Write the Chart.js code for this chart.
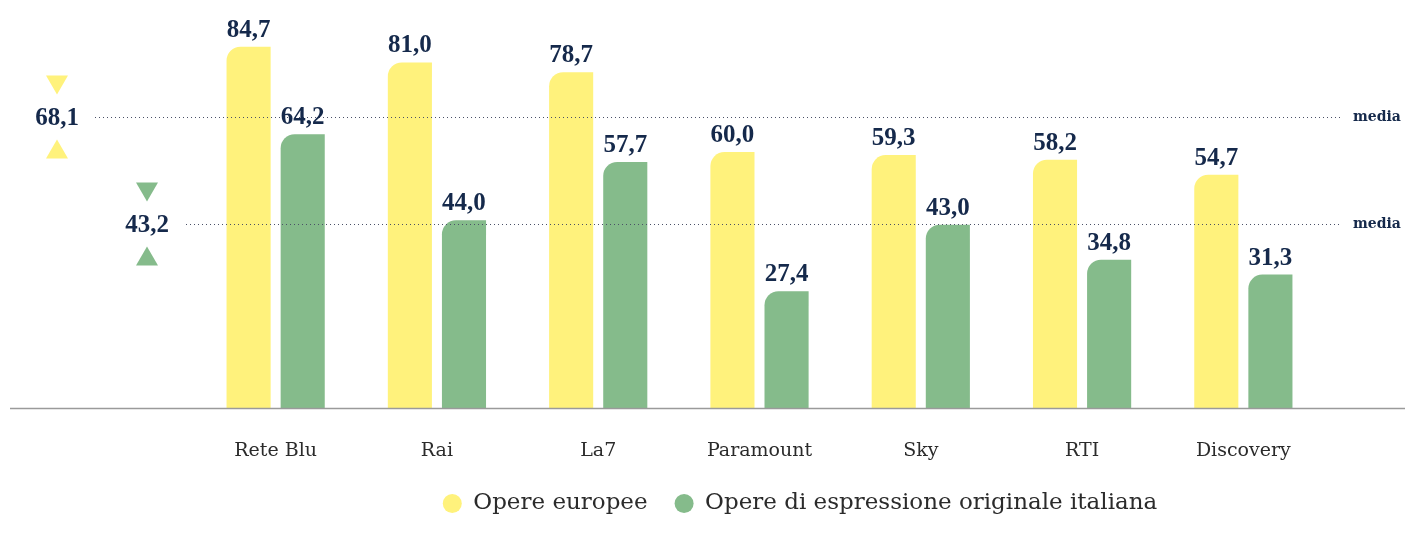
<!DOCTYPE html>
<html>
<head>
  <title>Opere europee</title>
  <script src="https://cdn.jsdelivr.net/npm/chart.js"></script>
  <style>
    body { margin: 0; background: #fff; }
  </style>
</head>
<body>
  <div style="width: 1405px; height: 534px;">
    <canvas id="myChart"></canvas>
  </div>

  <script>
    const labels = ['Rete Blu', 'Rai', 'La7', 'Paramount', 'Sky', 'RTI', 'Discovery'];
    const seriesNames = ['Opere europee', 'Opere di espressione originale italiana'];
    const europee = [84.7, 81.0, 78.7, 60.0, 59.3, 58.2, 54.7];
    const italiana = [64.2, 44.0, 57.7, 27.4, 43.0, 34.8, 31.3];
    const meanValues = [68.1, 43.2];
    const meanLabel = 'media';

    const YELLOW = '#fff27c';
    const GREEN = '#85bb8b';
    const NAVY = '#15294b';
    const serif = '"Liberation Serif", serif';
    const wide = '"DejaVu Serif", serif';

    const fmt = v => v.toFixed(1).replace('.', ',');

    // mean lines with value + triangles on the left, "media" on the right
    const meanPlugin = {
      id: 'means',
      afterDatasetsDraw(chart) {
        const ctx = chart.ctx;
        const y = chart.scales.y;
        const colors = [YELLOW, GREEN];
        const labelX = [57, 147];
        const lineStart = [95, 186];
        ctx.save();
        meanValues.forEach((m, i) => {
          const py = Math.round(y.getPixelForValue(m)) + 0.5;
          ctx.strokeStyle = '#4a5066';
          ctx.lineWidth = 1;
          ctx.setLineDash([1, 3]);
          ctx.beginPath();
          ctx.moveTo(lineStart[i], py);
          ctx.lineTo(1340, py);
          ctx.stroke();
          ctx.setLineDash([]);

          ctx.fillStyle = NAVY;
          ctx.font = 'bold 25px ' + serif;
          ctx.textAlign = 'center';
          ctx.textBaseline = 'middle';
          ctx.fillText(fmt(m), labelX[i], py + 1);

          ctx.font = 'bold 14px ' + wide;
          ctx.textAlign = 'left';
          ctx.fillText(meanLabel, 1353, py);

          ctx.fillStyle = colors[i];
          const cx = labelX[i];
          ctx.beginPath();
          ctx.moveTo(cx - 11, py - 42);
          ctx.lineTo(cx + 11, py - 42);
          ctx.lineTo(cx, py - 23);
          ctx.closePath();
          ctx.fill();
          ctx.beginPath();
          ctx.moveTo(cx - 11, py + 41);
          ctx.lineTo(cx + 11, py + 41);
          ctx.lineTo(cx, py + 22);
          ctx.closePath();
          ctx.fill();
        });

        // baseline across the whole width
        const base = Math.round(y.getPixelForValue(0)) + 0.5;
        ctx.strokeStyle = '#9a9a9a';
        ctx.lineWidth = 1.5;
        ctx.beginPath();
        ctx.moveTo(10, base);
        ctx.lineTo(chart.width, base);
        ctx.stroke();

        // value labels above bars
        ctx.fillStyle = NAVY;
        ctx.font = 'bold 25px ' + serif;
        ctx.textAlign = 'center';
        ctx.textBaseline = 'bottom';
        chart.data.datasets.forEach((ds, di) => {
          chart.getDatasetMeta(di).data.forEach((bar, j) => {
            ctx.fillText(fmt(ds.data[j]), bar.x, bar.y - 4);
          });
        });
        ctx.restore();
      }
    };

    const ctx = document.getElementById('myChart').getContext('2d');
    const myChart = new Chart(ctx, {
      type: 'bar',
      data: {
        labels: labels,
        datasets: [
          {
            label: seriesNames[0],
            data: europee,
            backgroundColor: YELLOW,
            borderRadius: { topLeft: 14, topRight: 0, bottomLeft: 0, bottomRight: 0 },
            borderSkipped: 'start',
            categoryPercentage: 0.671,
            barPercentage: 0.815
          },
          {
            label: seriesNames[1],
            data: italiana,
            backgroundColor: GREEN,
            borderRadius: { topLeft: 14, topRight: 0, bottomLeft: 0, bottomRight: 0 },
            borderSkipped: 'start',
            categoryPercentage: 0.671,
            barPercentage: 0.815
          }
        ]
      },
      options: {
        responsive: true,
        maintainAspectRatio: false,
        animation: false,
        layout: { padding: { left: 195, right: 0, top: 24, bottom: 9 } },
        plugins: {
          tooltip: { enabled: false },
          legend: {
            position: 'bottom',
            labels: {
              usePointStyle: true,
              pointStyle: 'circle',
              boxHeight: 13.5,
              pointStyleWidth: 19,
              padding: 27,
              color: '#2b2b2b',
              font: { family: wide, size: 23 }
            }
          }
        },
        scales: {
          x: {
            grid: { display: false },
            border: { display: false },
            ticks: {
              padding: 23,
              color: '#2b2b2b',
              font: { family: wide, size: 19 }
            },
            afterFit: s => { s.height = s.height - 20; }
          },
          y: {
            display: false,
            min: 0,
            max: 90
          },
          y2: {
            position: 'right',
            display: true,
            grid: { display: false },
            border: { display: false },
            ticks: { display: false },
            afterFit: s => { s.width = 81; }
          }
        }
      },
      plugins: [meanPlugin]
    });
  </script>
</body>
</html>
